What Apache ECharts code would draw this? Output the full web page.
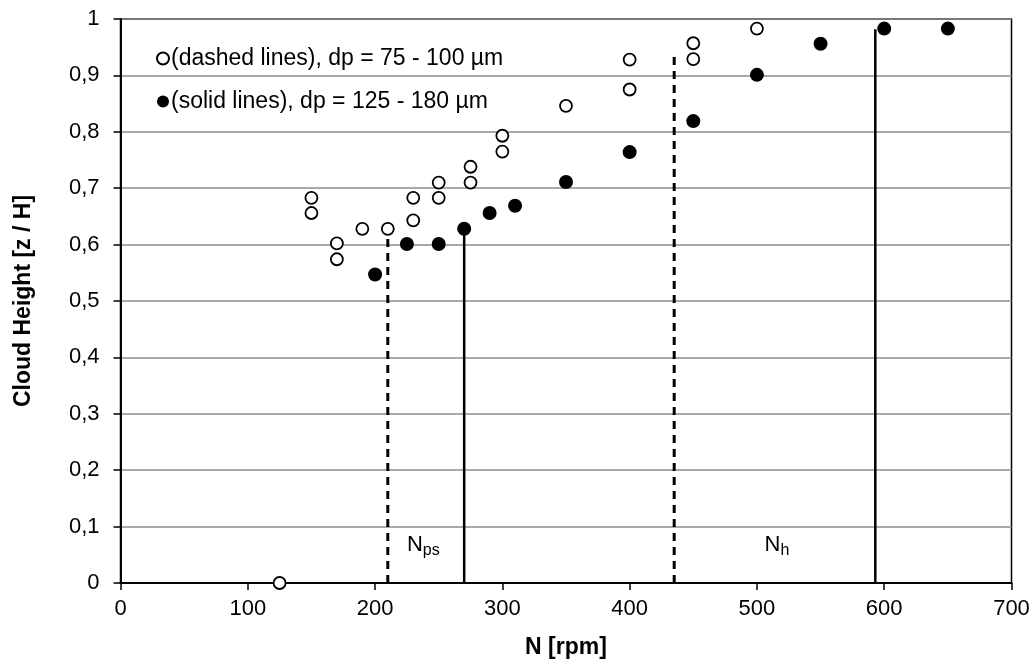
<!DOCTYPE html>
<html>
<head>
<meta charset="utf-8">
<script src="https://cdn.jsdelivr.net/npm/echarts@6/dist/echarts.min.js"></script>
<style>
  html, body { margin: 0; padding: 0; background: #fff; }
  #chart { width: 1035px; height: 666px; }
</style>
</head>
<body>
<div id="chart"></div>
<script>
// Cloud height vs impeller speed for two particle size ranges
const smallN = [125, 150, 150, 170, 170, 190, 210, 230, 230, 250, 250, 275, 275, 300, 300, 350, 400, 400, 450, 450, 500];
const smallZ = [0, 0.683, 0.656, 0.602, 0.574, 0.628, 0.628, 0.683, 0.643, 0.710, 0.683, 0.738, 0.710, 0.793, 0.765, 0.846, 0.928, 0.875, 0.957, 0.929, 0.983];

const largeN = [200, 225, 250, 270, 290, 310, 350, 400, 450, 500, 550, 600, 650];
const largeZ = [0.547, 0.601, 0.601, 0.628, 0.656, 0.669, 0.711, 0.764, 0.819, 0.901, 0.956, 0.983, 0.983];

// Characteristic speeds: N_ps (partial suspension) and N_h (homogeneous)
const npsSmall = [210, 0.628];
const npsLarge = [270, 0.628];
const nhSmall = [435, 0.935];
const nhLarge = [593, 0.982];

const xTicks = [0, 100, 200, 300, 400, 500, 600, 700];
const yTicks = [0, 0.1, 0.2, 0.3, 0.4, 0.5, 0.6, 0.7, 0.8, 0.9, 1];

const legendSmall = '(dashed lines), dp = 75 - 100 µm';
const legendLarge = '(solid lines), dp = 125 - 180 µm';
const labelNps = [225, 0.064];
const labelNh = [506, 0.064];

const font = 'Liberation Sans, Arial, sans-serif';

function zip(xs, ys) { return xs.map((x, i) => [x, ys[i]]); }
function vline(p) { return [[p[0], 0], [p[0], p[1]]]; }

const chart = echarts.init(document.getElementById('chart'), null, { renderer: 'canvas' });

const lineBase = { type: 'line', symbol: 'none', silent: true, z: 1, animation: false };

chart.setOption({
  animation: false,
  backgroundColor: '#fff',
  grid: {
    left: 120.5, right: 23.5, top: 19, bottom: 83,
    show: true, borderColor: '#000', borderWidth: 1.5, backgroundColor: 'transparent'
  },
  legend: {
    orient: 'vertical',
    left: 151, top: 42,
    itemGap: 20,
    itemWidth: 12, itemHeight: 12,
    icon: 'circle',
    selectedMode: false,
    textStyle: { fontFamily: font, fontSize: 23, color: '#000', padding: [0, 0, 0, -3] },
    data: [legendSmall, legendLarge]
  },
  xAxis: {
    type: 'value', min: 0, max: 700, interval: 100,
    name: 'N [rpm]', nameLocation: 'middle', nameGap: 53,
    nameTextStyle: { fontFamily: font, fontSize: 23, fontWeight: 'bold', color: '#000' },
    axisLine: { lineStyle: { color: '#000', width: 2 } },
    axisTick: { show: true, length: 7, lineStyle: { color: '#000', width: 1.5 } },
    axisLabel: { fontFamily: font, fontSize: 22, color: '#000', margin: 15,
      formatter: v => xTicks.includes(v) ? String(v) : '' },
    splitLine: { show: false }
  },
  yAxis: {
    type: 'value', min: 0, max: 1, interval: 0.1,
    name: 'Cloud Height [z / H]', nameLocation: 'middle', nameGap: 85,
    nameTextStyle: { fontFamily: font, fontSize: 23, fontWeight: 'bold', color: '#000' },
    axisLine: { lineStyle: { color: '#000', width: 2 } },
    axisTick: { show: true, length: 7, lineStyle: { color: '#000', width: 1.5 } },
    axisLabel: { fontFamily: font, fontSize: 22, color: '#000', margin: 21,
      formatter: v => {
        const t = yTicks.find(k => Math.abs(k - v) < 1e-6);
        return t === undefined ? '' : String(+t.toFixed(1)).replace('.', ',');
      } },
    splitLine: { show: true, lineStyle: { color: '#8c8c8c', width: 1.5 } }
  },
  series: [
    Object.assign({}, lineBase, { data: vline(npsSmall), lineStyle: { color: '#000', width: 3, type: [8, 6] } }),
    Object.assign({}, lineBase, { data: vline(npsLarge), lineStyle: { color: '#000', width: 2.5 } }),
    Object.assign({}, lineBase, { data: vline(nhSmall), lineStyle: { color: '#000', width: 3, type: [8, 6] } }),
    Object.assign({}, lineBase, { data: vline(nhLarge), lineStyle: { color: '#000', width: 2.5 } }),
    {
      name: legendSmall, type: 'scatter', z: 3,
      symbol: 'circle', symbolSize: 12,
      itemStyle: { color: '#fff', borderColor: '#000', borderWidth: 1.8, opacity: 1 },
      data: zip(smallN, smallZ)
    },
    {
      name: legendLarge, type: 'scatter', z: 3,
      symbol: 'circle', symbolSize: 14,
      itemStyle: { color: '#000', borderColor: '#000', borderWidth: 0, opacity: 1 },
      data: zip(largeN, largeZ)
    },
    {
      type: 'scatter', symbolSize: 0, silent: true, z: 4,
      itemStyle: { color: '#000', opacity: 1 },
      data: [
        { value: labelNps, label: { formatter: '{n|N}{s|ps}' } },
        { value: labelNh, label: { formatter: '{n|N}{s|h}' } }
      ],
      label: {
        show: true, position: 'right', distance: 0, color: '#000',
        rich: {
          n: { fontFamily: font, fontSize: 22, color: '#000', padding: [0, 0, 4, 0] },
          s: { fontFamily: font, fontSize: 16, color: '#000', padding: [8, 0, 0, 0] }
        }
      }
    }
  ]
});
</script>
</body>
</html>
